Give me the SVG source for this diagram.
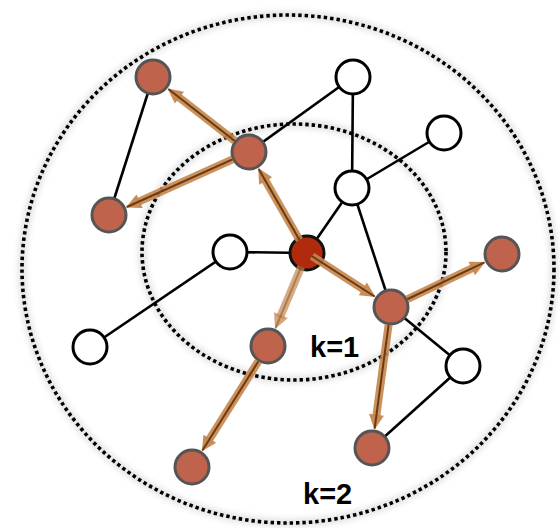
<svg xmlns="http://www.w3.org/2000/svg" width="560" height="528" viewBox="0 0 560 528">
<style>
.ring{fill:none;stroke:#000;stroke-width:3.6;stroke-dasharray:3.4 3}
.glow{fill:none;stroke:#000;stroke-opacity:0.13;stroke-width:7}
.edge{stroke:#000;stroke-width:2.6;fill:none}
.red{fill:#bf634d;stroke:#555;stroke-width:3}
.white{fill:#fff;stroke:#000;stroke-width:3}
.root{fill:#b02a0e;stroke:#111;stroke-width:3}
.band{stroke:#c5864d;stroke-opacity:0.9;stroke-width:8;fill:none}
.core{stroke:#6b3a12;stroke-width:2;fill:none}
.head{fill:#c5864d;fill-opacity:0.95}
.lbl{font-family:"Liberation Sans",Arial,sans-serif;font-weight:bold;font-size:29px;fill:#000}
</style>
<defs>
<filter id="blur" x="-10%" y="-10%" width="120%" height="120%"><feGaussianBlur stdDeviation="3"/></filter>
</defs>
<g id="rings">
<ellipse class="glow" cx="288" cy="269" rx="266" ry="254" filter="url(#blur)"/>
<ellipse class="glow" cx="294" cy="252" rx="152" ry="128" filter="url(#blur)"/>
<ellipse class="ring" cx="288" cy="269" rx="266" ry="254"/>
<ellipse class="ring" cx="294" cy="252" rx="152" ry="128"/>
</g>
<g id="edges">
<line class="edge" x1="153" y1="77" x2="109" y2="215"/>
<line class="edge" x1="249" y1="152" x2="353" y2="77"/>
<line class="edge" x1="353" y1="77" x2="352" y2="188"/>
<line class="edge" x1="352" y1="188" x2="444" y2="133"/>
<line class="edge" x1="352" y1="188" x2="307" y2="253"/>
<line class="edge" x1="352" y1="188" x2="391" y2="307"/>
<line class="edge" x1="230" y1="252" x2="307" y2="253"/>
<line class="edge" x1="230" y1="252" x2="90" y2="347"/>
<line class="edge" x1="391" y1="307" x2="463" y2="366"/>
<line class="edge" x1="463" y1="366" x2="372" y2="448"/>
</g>
<g id="node-center"><circle class="root" cx="307" cy="253" r="17"/></g>
<g id="node-A"><circle class="red" cx="153" cy="77" r="17"/></g>
<g id="node-B"><circle class="red" cx="249" cy="152" r="17"/></g>
<g id="node-C"><circle class="red" cx="109" cy="215" r="17"/></g>
<g id="node-D"><circle class="red" cx="391" cy="307" r="17"/></g>
<g id="node-E"><circle class="red" cx="502" cy="254" r="17"/></g>
<g id="node-F"><circle class="red" cx="268" cy="346" r="17"/></g>
<g id="node-G"><circle class="red" cx="192" cy="467" r="17"/></g>
<g id="node-H"><circle class="red" cx="372" cy="448" r="17"/></g>
<g id="node-W1"><circle class="white" cx="353" cy="77" r="17"/></g>
<g id="node-W2"><circle class="white" cx="444" cy="133" r="17"/></g>
<g id="node-W3"><circle class="white" cx="352" cy="188" r="17"/></g>
<g id="node-W4"><circle class="white" cx="230" cy="252" r="17"/></g>
<g id="node-W5"><circle class="white" cx="90" cy="347" r="17"/></g>
<g id="node-W6"><circle class="white" cx="463" cy="366" r="17"/></g>
<g id="arrows">
<g transform="translate(307,253) rotate(-119.87)">
<line class="band" x1="15" y1="0" x2="85" y2="0"/><polygon class="head" points="98,0 83,-7.5 83,7.5"/><line class="core" x1="15" y1="0" x2="97" y2="0"/></g>
<g transform="translate(249,152) rotate(-142.0)">
<line class="band" x1="18" y1="0" x2="90" y2="0"/><polygon class="head" points="103.3,0 88.3,-7.5 88.3,7.5"/><line class="core" x1="18" y1="0" x2="102.3" y2="0"/></g>
<g transform="translate(249,152) rotate(155.77)">
<line class="band" x1="18" y1="0" x2="122" y2="0"/><polygon class="head" points="135,0 120,-7.5 120,7.5"/><line class="core" x1="18" y1="0" x2="134" y2="0"/></g>
<g transform="translate(307,253) rotate(32.74)">
<line class="band" x1="6" y1="0" x2="68" y2="0"/><polygon class="head" points="81.4,0 66.4,-7.5 66.4,7.5"/><line class="core" x1="6" y1="0" x2="80.4" y2="0"/></g>
<g transform="translate(391,307) rotate(-25.52)">
<line class="band" x1="18" y1="0" x2="92" y2="0"/><polygon class="head" points="104.5,0 89.5,-7.5 89.5,7.5"/><line class="core" x1="18" y1="0" x2="103.5" y2="0"/></g>
<g transform="translate(307,253) rotate(112.75)">
<line class="band" x1="15" y1="0" x2="70" y2="0" style="stroke-opacity:0.7"/><polygon class="head" points="82.4,0 67.4,-7.5 67.4,7.5" style="fill-opacity:0.75"/><line class="core" x1="15" y1="0" x2="81.4" y2="0" style="stroke-opacity:0.4"/></g>
<g transform="translate(268,346) rotate(122.13)">
<line class="band" x1="18" y1="0" x2="112" y2="0"/><polygon class="head" points="124.4,0 109.4,-7.5 109.4,7.5"/><line class="core" x1="18" y1="0" x2="123.4" y2="0"/></g>
<g transform="translate(391,307) rotate(97.67)">
<line class="band" x1="18" y1="0" x2="111" y2="0"/><polygon class="head" points="123.8,0 108.8,-7.5 108.8,7.5"/><line class="core" x1="18" y1="0" x2="122.8" y2="0"/></g>
</g>
<g id="labels">
<text class="lbl" x="310" y="357">k=1</text>
<text class="lbl" x="303" y="504">k=2</text>
</g>
</svg>
